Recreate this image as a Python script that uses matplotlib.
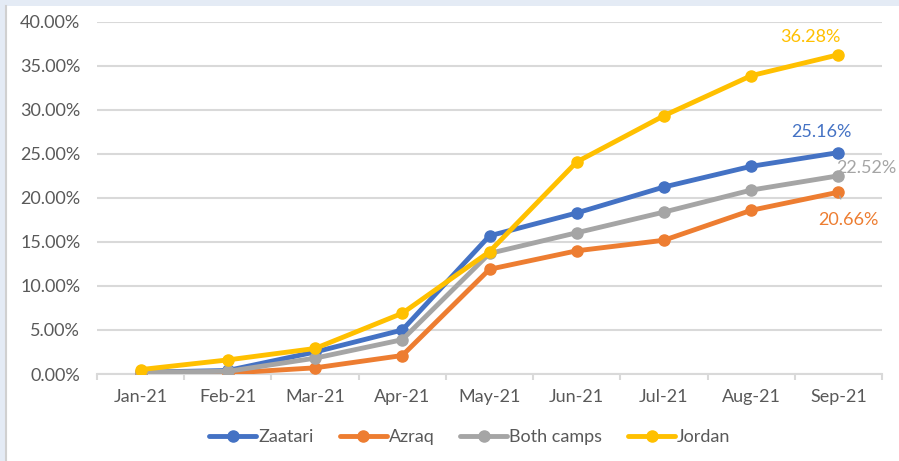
import numpy as np
import matplotlib.pyplot as plt
from matplotlib.patches import Rectangle
from matplotlib.ticker import FuncFormatter, FixedLocator

plt.rcParams['font.family'] = ['Lato', 'DejaVu Sans']

meses = ['Jan-21', 'Feb-21', 'Mar-21', 'Apr-21', 'May-21', 'Jun-21', 'Jul-21', 'Aug-21', 'Sep-21']
zaatari = [0.2, 0.4, 2.5, 5.0, 15.7, 18.3, 21.25, 23.6, 25.16]
azraq = [0.1, 0.1, 0.7, 2.1, 11.9, 14.0, 15.2, 18.6, 20.66]
ambos = [0.2, 0.3, 1.8, 3.9, 13.7, 16.05, 18.4, 20.9, 22.52]
jordan = [0.5, 1.6, 2.9, 6.9, 13.9, 24.1, 29.35, 33.9, 36.28]

series = [('Zaatari', zaatari, '#4472C4'),
          ('Azraq', azraq, '#ED7D31'),
          ('Both camps', ambos, '#A5A5A5'),
          ('Jordan', jordan, '#FFC000')]

gris_texto = '#595959'
tam = 13

fig = plt.figure(figsize=(8.99, 4.61), dpi=100)
fig.patch.set_facecolor('#E4EBF5')
# fondo blanco del area del grafico
fig.add_artist(Rectangle((6 / 899, 0), 1, 1 - 6 / 461, transform=fig.transFigure,
                         facecolor='white', edgecolor='none', zorder=-10))
fig.add_artist(plt.Line2D([6 / 899, 6 / 899], [0, 1 - 6 / 461], transform=fig.transFigure,
                          color='#D0D0D0', lw=1.5, zorder=-9))

ax = fig.add_axes([97 / 899, 87 / 461, 785 / 899, 352 / 461])
ax.set_facecolor('white')

x = np.arange(len(meses))
for nombre, vals, color in series:
    ax.plot(x, vals, color=color, lw=3.5, marker='o', markersize=8, label=nombre,
            solid_capstyle='round', zorder=3)

ax.set_xlim(-0.5, len(meses) - 0.5)
ax.set_ylim(0, 40)
ax.set_yticks(np.arange(0, 41, 5))
ax.yaxis.set_major_formatter(FuncFormatter(lambda v, p: f'{v:.2f}%'))
ax.grid(axis='y', color='#D9D9D9', lw=1.5)
ax.set_axisbelow(True)

ax.set_xticks(x)
ax.set_xticklabels(meses)
ax.xaxis.set_minor_locator(FixedLocator(np.arange(-0.5, len(meses), 1)))
ax.tick_params(axis='x', which='major', length=0, pad=11, labelsize=tam, labelcolor=gris_texto)
ax.tick_params(axis='x', which='minor', length=4, width=1.5, color='#D9D9D9', direction='out')
ax.tick_params(axis='y', length=0, pad=12, labelsize=tam, labelcolor=gris_texto)

for s in ['top', 'right', 'left']:
    ax.spines[s].set_visible(False)
ax.spines['bottom'].set_color('#D9D9D9')
ax.spines['bottom'].set_linewidth(1.5)

# etiquetas del ultimo punto
ult = len(meses) - 1
ax.annotate(f'{jordan[-1]:.2f}%', (ult, jordan[-1]), xytext=(-28, 10), textcoords='offset pixels',
            ha='center', va='bottom', color='#FFC000', fontsize=tam)
ax.annotate(f'{zaatari[-1]:.2f}%', (ult, zaatari[-1]), xytext=(-17, 13), textcoords='offset pixels',
            ha='center', va='bottom', color='#4472C4', fontsize=tam)
ax.annotate(f'{ambos[-1]:.2f}%', (ult, ambos[-1]), xytext=(-2, 8), textcoords='offset pixels',
            ha='left', va='center', color='#A5A5A5', fontsize=tam)
ax.annotate(f'{azraq[-1]:.2f}%', (ult, azraq[-1]), xytext=(10, -28), textcoords='offset pixels',
            ha='center', va='center', color='#ED7D31', fontsize=tam,
            arrowprops=dict(arrowstyle='-', color='#A5A5A5', lw=1, shrinkA=8, shrinkB=3))

leg = ax.legend(loc='center', bbox_to_anchor=(470 / 899, 24 / 461), bbox_transform=fig.transFigure,
                ncol=4, frameon=False, fontsize=tam, handlelength=2.6, handletextpad=0.1,
                columnspacing=1.45)
for t in leg.get_texts():
    t.set_color(gris_texto)

fig.savefig('out.png', dpi=100, facecolor=fig.get_facecolor())
